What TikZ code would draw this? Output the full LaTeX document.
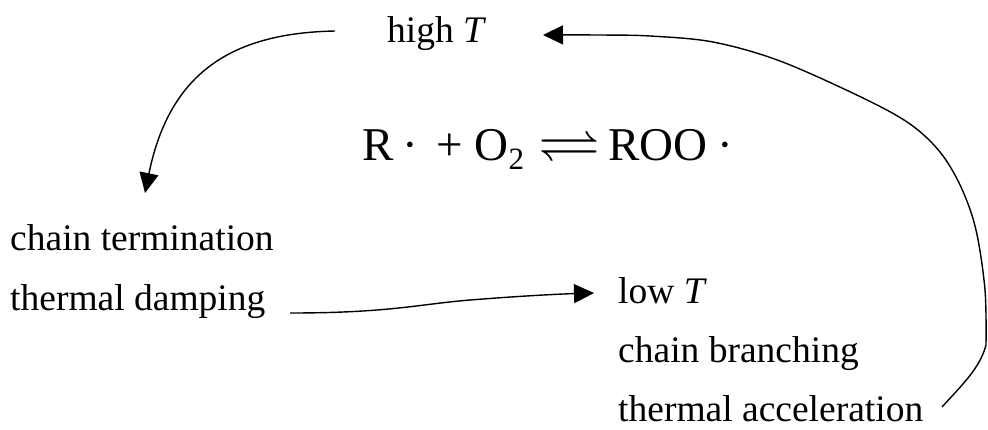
\documentclass[tikz,border=0pt]{standalone}
\usepackage{amssymb}
\usepackage{fontspec}
\setmainfont{Liberation Serif}
\usepackage{graphicx}
\usetikzlibrary{arrows.meta}
\begin{document}
\begin{tikzpicture}[x=1pt,y=-1pt,
  lab/.style={anchor=base west,inner sep=0pt,font=\fontsize{37.5}{45}\selectfont},
  eqn/.style={anchor=base west,inner sep=0pt,font=\fontsize{47}{56}\selectfont},
  conn/.style={line width=1.4pt,-{Triangle[length=20pt,width=19pt]}}]
\useasboundingbox (0,0) rectangle (988,429);
\node[lab] (hiT) at (387,42) {high \textit{T}};
\node[lab] (ct) at (10,250) {chain termination};
\node[lab] (td) at (10,310) {thermal damping};
\node[lab] (loT) at (618,303) {low \textit{T}};
\node[lab] (cb) at (618,362) {chain branching};
\node[lab] (ta) at (618,421) {thermal acceleration};
\node[eqn] (eq) at (362,160) {R\hspace{9pt}·\hspace{18pt}+\hspace{12pt}O\raisebox{-9pt}{\fontsize{31}{31}\selectfont 2}\hspace{14pt}\raisebox{0pt}{\fontsize{10}{12}\selectfont\scalebox{6.2}[5.6]{$\rightleftharpoons$}}\hspace{8pt}ROO\hspace{10pt}·};
\coordinate (s1) at (335,31);
\coordinate (e1) at (145,193);
\coordinate (s2) at (290,313);
\coordinate (e2) at (594,293);
\coordinate (s3) at (942,407);
\coordinate (c3) at (986,345);
\coordinate (e3) at (543,35);
\draw[conn] (s1) .. controls (235,33) and (170,70) .. (e1);
\draw[conn] (s2) .. controls (390,313) and (420,304) .. (470,300) .. controls (520,296) and (560,294) .. (e2);
\draw[conn] (s3) .. controls (962,385) and (980,368) .. (c3)
  plot[smooth,tension=0.55] coordinates {(986,345) (985,290) (976,230) (961,187) (940,152) (910,124) (863,98) (780,61) (713,42) (650,36) (600,35) (543,35)};
\end{tikzpicture}
\end{document}
